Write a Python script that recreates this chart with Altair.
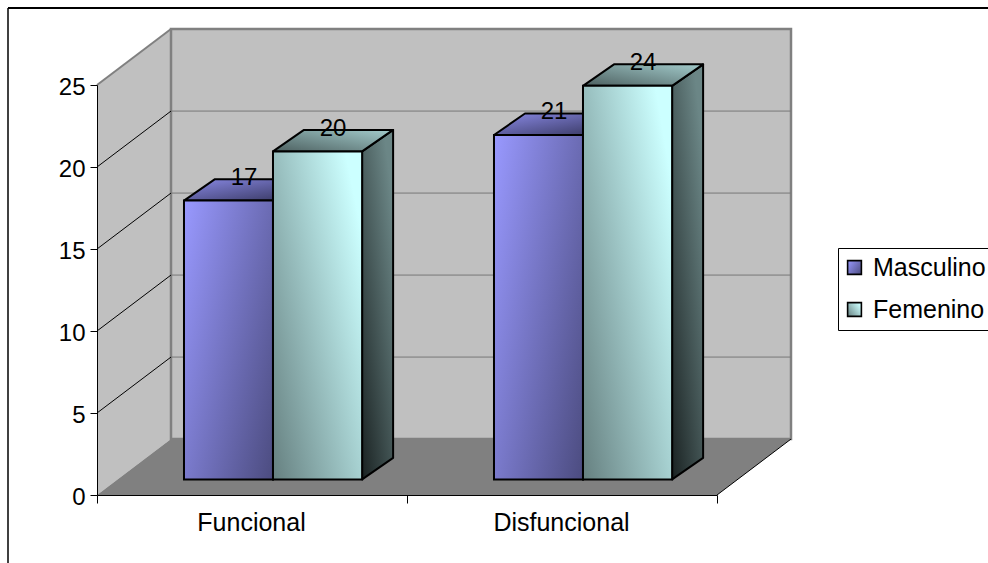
import altair as alt
import pandas as pd

categories = ["Funcional", "Disfuncional"]
series = ["Masculino", "Femenino"]
masculino = [17, 21]
femenino = [20, 24]
y_ticks = [0, 5, 10, 15, 20, 25]
x_ticks = [0, 0.5, 1, 1.5, 2]

FONT = "Liberation Sans"
Y_MAX = 25

# Depth of the box and of the bars, in axis units
BOX_DX, BOX_DY = 0.2387, 3.41
BAR_DX, BAR_DY = 0.1, 1.31
BASE_VALUE = 0.95
BAR_LEFT = {"Masculino": 0.2806, "Femenino": 0.5677}
BAR_WIDTH = {"Masculino": 0.2871, "Femenino": 0.2875}

grad_m = "{gradient:'linear',x1:0,y1:0,x2:1.15,y2:0.77,stops:[{offset:0,color:'#9999FF'},{offset:1,color:'#4C4C80'}]}"
grad_f = "{gradient:'linear',x1:0,y1:1,x2:1,y2:0.25,stops:[{offset:0,color:'#668080'},{offset:1,color:'#CCFFFF'}]}"

TOP_FILL = {
    "Masculino": alt.LinearGradient(gradient="linear", x1=0, y1=0, x2=1, y2=1, stops=[
        alt.GradientStop(offset=0, color="#8A8AE6"), alt.GradientStop(offset=1, color="#33335A")]),
    "Femenino": alt.LinearGradient(gradient="linear", x1=0, y1=1, x2=1, y2=0, stops=[
        alt.GradientStop(offset=0, color="#4D6060"), alt.GradientStop(offset=1, color="#A3CCCC")]),
}
SIDE_FILL = {
    "Masculino": alt.LinearGradient(gradient="linear", x1=0, y1=1, x2=1, y2=0, stops=[
        alt.GradientStop(offset=0, color="#1E1E33"), alt.GradientStop(offset=1, color="#4C4C80")]),
    "Femenino": alt.LinearGradient(gradient="linear", x1=0, y1=1, x2=0.7, y2=0, stops=[
        alt.GradientStop(offset=0, color="#1A2222"), alt.GradientStop(offset=1, color="#6B8686")]),
}

rows = []
for name, values in zip(series, [masculino, femenino]):
    for i, (cat, v) in enumerate(zip(categories, values)):
        left = i + BAR_LEFT[name]
        rows.append({"sexo": name, "cat": cat, "value": v, "x0": left, "x1": left + BAR_WIDTH[name],
                     "base": BASE_VALUE, "top": BASE_VALUE + v})
bars = pd.DataFrame(rows)

NUM_X = alt.Scale(domain=[0, 2])
NUM_Y = alt.Scale(domain=[0, Y_MAX])

x_label_expr = f"datum.value == 0.5 ? '{categories[0]}' : datum.value == 1.5 ? '{categories[1]}' : ''"
AXIS_X = alt.Axis(
    values=x_ticks, labelExpr=x_label_expr, grid=False, zindex=1, domainColor="black", tickColor="black",
    tickOpacity={"condition": {"test": "datum.value % 1 != 0", "value": 0}, "value": 1},
    tickSize=8, labelFont=FONT, labelFontSize=25, labelColor="black", labelPadding=7,
    labelOverlap=False, labelBound=False, labelFlush=False, labelOffset=-1, title=None)
AXIS_Y = alt.Axis(
    values=y_ticks, grid=False, zindex=1, domainColor="black", tickColor="black",
    tickSize=7, labelFont=FONT, labelFontSize=24, labelColor="black", labelPadding=5,
    labelOverlap=False, labelOffset=2, title=None)


def X(field, **kw):
    return alt.X(field, type="quantitative", scale=NUM_X, axis=AXIS_X, **kw)


def Y(field, **kw):
    return alt.Y(field, type="quantitative", scale=NUM_Y, axis=AXIS_Y, **kw)


def band_side(df):
    out = []
    for _, b in df.iterrows():
        key = b["sexo"] + b["cat"]
        out.append({"k": key, "x": b["x1"], "y": b["top"], "y2": b["base"]})
        out.append({"k": key, "x": b["x1"] + BAR_DX, "y": b["top"] + BAR_DY, "y2": b["base"] + BAR_DY})
    return pd.DataFrame(out)


def band_top(df):
    out = []
    for _, b in df.iterrows():
        key = b["sexo"] + b["cat"]
        out.append({"k": key, "y": b["top"], "x": b["x0"], "x2": b["x1"]})
        out.append({"k": key, "y": b["top"] + BAR_DY, "x": b["x0"] + BAR_DX, "x2": b["x1"] + BAR_DX})
    return pd.DataFrame(out)


# Back wall of the box
back_wall = alt.Chart(pd.DataFrame([{"x": BOX_DX, "x2": 2 + BOX_DX, "y": BOX_DY, "y2": Y_MAX + BOX_DY}])).mark_rect(
    fill="#C0C0C0", stroke="#808080", strokeWidth=2.5
).encode(x=X("x:Q"), x2="x2:Q", y=Y("y:Q"), y2="y2:Q")

grid_values = [5, 10, 15, 20]
back_grid = alt.Chart(pd.DataFrame({"v": [v + BOX_DY for v in grid_values], "a": BOX_DX, "b": 2 + BOX_DX})).mark_rule(
    color="#777777", strokeWidth=1
).encode(x=X("a:Q"), x2="b:Q", y=Y("v:Q"))

side_wall = alt.Chart(pd.DataFrame({"x": [0, BOX_DX], "y": [0, BOX_DY], "y2": [Y_MAX, Y_MAX + BOX_DY]})).mark_area(
    fill="#C0C0C0"
).encode(x=X("x:Q"), y=Y("y:Q", stack=None), y2="y2:Q")

side_grid = alt.Chart(pd.DataFrame({"v": grid_values, "v2": [v + BOX_DY for v in grid_values], "a": 0, "b": BOX_DX})).mark_rule(
    color="black", strokeWidth=1
).encode(x=X("a:Q"), x2="b:Q", y=Y("v:Q"), y2="v2:Q")

side_top_edge = alt.Chart(pd.DataFrame({"v": [Y_MAX], "v2": [Y_MAX + BOX_DY], "a": 0, "b": BOX_DX})).mark_rule(
    color="#808080", strokeWidth=2
).encode(x=X("a:Q"), x2="b:Q", y=Y("v:Q"), y2="v2:Q")

floor = alt.Chart(pd.DataFrame({"y": [0, BOX_DY], "x": [0, BOX_DX], "x2": [2, 2 + BOX_DX]})).mark_area(
    fill="#808080", orient="horizontal"
).encode(y=Y("y:Q"), x=X("x:Q", stack=None), x2="x2:Q")

floor_edge = alt.Chart(pd.DataFrame({"a": [2], "b": [2 + BOX_DX], "v": [0], "v2": [BOX_DY]})).mark_rule(
    color="black", strokeWidth=1
).encode(x=X("a:Q"), x2="b:Q", y=Y("v:Q"), y2="v2:Q")

color = alt.Color("sexo:N", title=None, scale=alt.Scale(
    domain=series, range=[{"expr": grad_m}, {"expr": grad_f}]
), legend=alt.Legend(
    orient="none", legendX=741, legendY=163, title=None, symbolType="square", symbolSize=190,
    symbolStrokeColor="black", symbolStrokeWidth=1.6, symbolOpacity=1, symbolOffset=-3, labelFont=FONT,
    labelFontSize=25, labelColor="black", labelLimit=200, rowPadding=16, labelOffset=6, strokeColor="black",
    fillColor="white", padding=7, cornerRadius=0))

bar_layers = []
for name in series:
    subset = bars[bars["sexo"] == name]
    side = alt.Chart(band_side(subset)).mark_area(fill=SIDE_FILL[name], stroke="black", strokeWidth=2, strokeJoin="round").encode(
        x=X("x:Q"), y=Y("y:Q", stack=None), y2="y2:Q", detail="k:N")
    top = alt.Chart(band_top(subset)).mark_area(fill=TOP_FILL[name], stroke="black", strokeWidth=2, orient="horizontal", strokeJoin="round").encode(
        y=Y("y:Q"), x=X("x:Q", stack=None), x2="x2:Q", detail="k:N")
    front = alt.Chart(subset).mark_rect(stroke="black", strokeWidth=2).encode(
        x=X("x0:Q"), x2="x1:Q", y=Y("top:Q"), y2="base:Q", color=color)
    bar_layers += [side, top, front]

labels = alt.Chart(bars.assign(
    lx=lambda d: (d["x0"] + d["x1"]) / 2 + 0.05,
    ly=lambda d: d["top"] + 1.38,
)).mark_text(font=FONT, fontSize=24, color="black", align="center", baseline="middle").encode(
    x=X("lx:Q"), y=Y("ly:Q"), text="value:Q")

# Outer frame, open to the right and the bottom of the page
frame_left = alt.Chart(pd.DataFrame({"k": [0]})).mark_rule(color="black", strokeWidth=1.5).encode(
    x=alt.value(-89), y=alt.value(-77), y2=alt.value(478))
frame_top = alt.Chart(pd.DataFrame({"k": [0]})).mark_rule(color="black", strokeWidth=2).encode(
    y=alt.value(-77), x=alt.value(-89), x2=alt.value(891))

chart = alt.layer(
    frame_left, frame_top, side_wall, back_wall, back_grid, side_grid, side_top_edge, floor, floor_edge,
    *bar_layers, labels
).properties(
    width=620, height=410, background="white",
    padding={"left": 97, "top": 85, "right": 271, "bottom": 68},
    autosize=alt.AutoSizeParams(type="none"),
).configure_view(stroke=None)

chart.save("out.html", embed_options={"renderer": "svg", "actions": False})
